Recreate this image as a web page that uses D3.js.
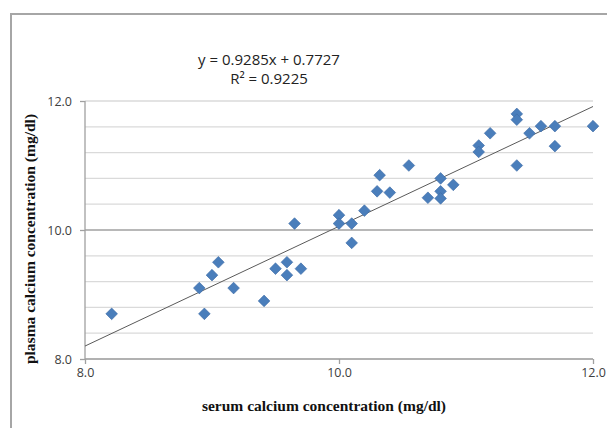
<!DOCTYPE html>
<html>
<head>
<meta charset="utf-8">
<script src="https://cdn.jsdelivr.net/npm/d3@7"></script>
<style>
  body { margin: 0; background: #fff; }
  svg { display: block; }
</style>
</head>
<body>
<svg id="chart" width="607" height="428"></svg>
<script>
// serum (x) and plasma (y) calcium, mg/dl
var serum = [8.21, 8.9, 8.94, 9.0, 9.05, 9.17, 9.41, 9.5, 9.59, 9.59, 9.65, 9.7,
  10.0, 10.0, 10.1, 10.1, 10.2, 10.3, 10.32, 10.4, 10.55, 10.7, 10.8, 10.8, 10.8, 10.9,
  11.1, 11.1, 11.19, 11.4, 11.4, 11.4, 11.5, 11.59, 11.7, 11.7, 12.0];
var plasma = [8.7, 9.1, 8.7, 9.3, 9.5, 9.1, 8.9, 9.4, 9.5, 9.3, 10.1, 9.4,
  10.23, 10.1, 10.1, 9.8, 10.3, 10.6, 10.85, 10.58, 11.0, 10.5, 10.8, 10.6, 10.49, 10.7,
  11.31, 11.21, 11.5, 11.8, 11.71, 11.0, 11.5, 11.61, 11.61, 11.3, 11.61];
var slope = 0.9285, intercept = 0.7727;
var eqLabels = ["y = 0.9285x + 0.7727", "R² = 0.9225"];
var xTicks = [8, 10, 12];
var yTicks = [8, 10, 12];
var yMinor = d3.range(8, 12.01, 0.4);

var svg = d3.select("#chart");
var plotL = 85, plotR = 593, plotT = 101, plotB = 359;

var x = d3.scaleLinear().domain([8, 12]).range([plotL, plotR]);
var y = d3.scaleLinear().domain([8, 12]).range([plotB, plotT]);

// chart frame
svg.append("rect")
  .attr("x", 11).attr("y", 14)
  .attr("width", 620).attr("height", 440)
  .attr("fill", "#fff")
  .attr("stroke", "#a6a6a6")
  .attr("stroke-width", 2);

// gridlines
svg.append("g")
  .selectAll("line")
  .data(yMinor)
  .enter()
  .append("line")
  .attr("x1", plotL).attr("x2", plotR)
  .attr("y1", function(d) { return y(d); })
  .attr("y2", function(d) { return y(d); })
  .attr("stroke", function(d) { return Math.abs(d - 10) < 1e-6 ? "#a0a0a0" : "#dadada"; })
  .attr("stroke-width", 1.3);

// axes
var yAxis = svg.append("g")
  .attr("transform", "translate(" + plotL + ",0)")
  .call(d3.axisLeft(y).tickValues(yTicks).tickSize(5).tickPadding(8).tickFormat(d3.format(".1f")));
var xAxis = svg.append("g")
  .attr("transform", "translate(0," + plotB + ")")
  .call(d3.axisBottom(x).tickValues(xTicks).tickSize(5).tickPadding(4).tickFormat(d3.format(".1f")));

[xAxis, yAxis].forEach(function(a) {
  a.select(".domain").attr("stroke", "#a0a0a0").attr("stroke-width", 1.3);
  a.selectAll(".tick line").attr("stroke", "#a0a0a0").attr("stroke-width", 1.3);
  a.selectAll(".tick text")
    .attr("fill", "#404040")
    .style("font-family", "'Open Sans', sans-serif")
    .style("font-size", "12.5px");
});
// drop the outer tick ends d3 adds to the domain path
xAxis.select(".domain").attr("d", "M" + plotL + ",0H" + plotR);
yAxis.select(".domain").attr("d", "M0," + plotB + "V" + plotT);

// trendline
var trend = d3.line()
  .x(function(d) { return x(d); })
  .y(function(d) { return y(slope * d + intercept); });
svg.append("path")
  .attr("d", trend([8, 12]))
  .attr("fill", "none")
  .attr("stroke", "#5a5a5a")
  .attr("stroke-width", 1);

// points
var diamond = d3.symbol().type(d3.symbolSquare).size(68);
svg.append("g")
  .selectAll("path")
  .data(serum)
  .enter()
  .append("path")
  .attr("d", diamond)
  .attr("transform", function(d, i) {
    return "translate(" + x(d) + "," + y(plasma[i]) + ") rotate(45)";
  })
  .attr("fill", "#4a7ebb")
  .attr("stroke", "#3d6ca6")
  .attr("stroke-width", 0.6);

// equation
svg.append("g")
  .selectAll("text")
  .data(eqLabels)
  .enter()
  .append("text")
  .attr("x", 269)
  .attr("y", function(d, i) { return 65 + i * 19; })
  .attr("text-anchor", "middle")
  .style("font-family", "'Open Sans', sans-serif")
  .style("font-size", "15px")
  .attr("fill", "#222")
  .text(function(d) { return d; });

// axis titles
svg.append("text")
  .attr("x", 324).attr("y", 411)
  .attr("text-anchor", "middle")
  .style("font-family", "'Liberation Serif', 'Times New Roman', serif")
  .style("font-weight", "bold")
  .style("font-size", "15.5px")
  .attr("fill", "#111")
  .text("serum calcium concentration (mg/dl)");

svg.append("text")
  .attr("transform", "translate(35,239) rotate(-90)")
  .attr("text-anchor", "middle")
  .style("font-family", "'Liberation Serif', 'Times New Roman', serif")
  .style("font-weight", "bold")
  .style("font-size", "15.5px")
  .attr("fill", "#111")
  .text("plasma calcium concentration (mg/dl)");
</script>
</body>
</html>
